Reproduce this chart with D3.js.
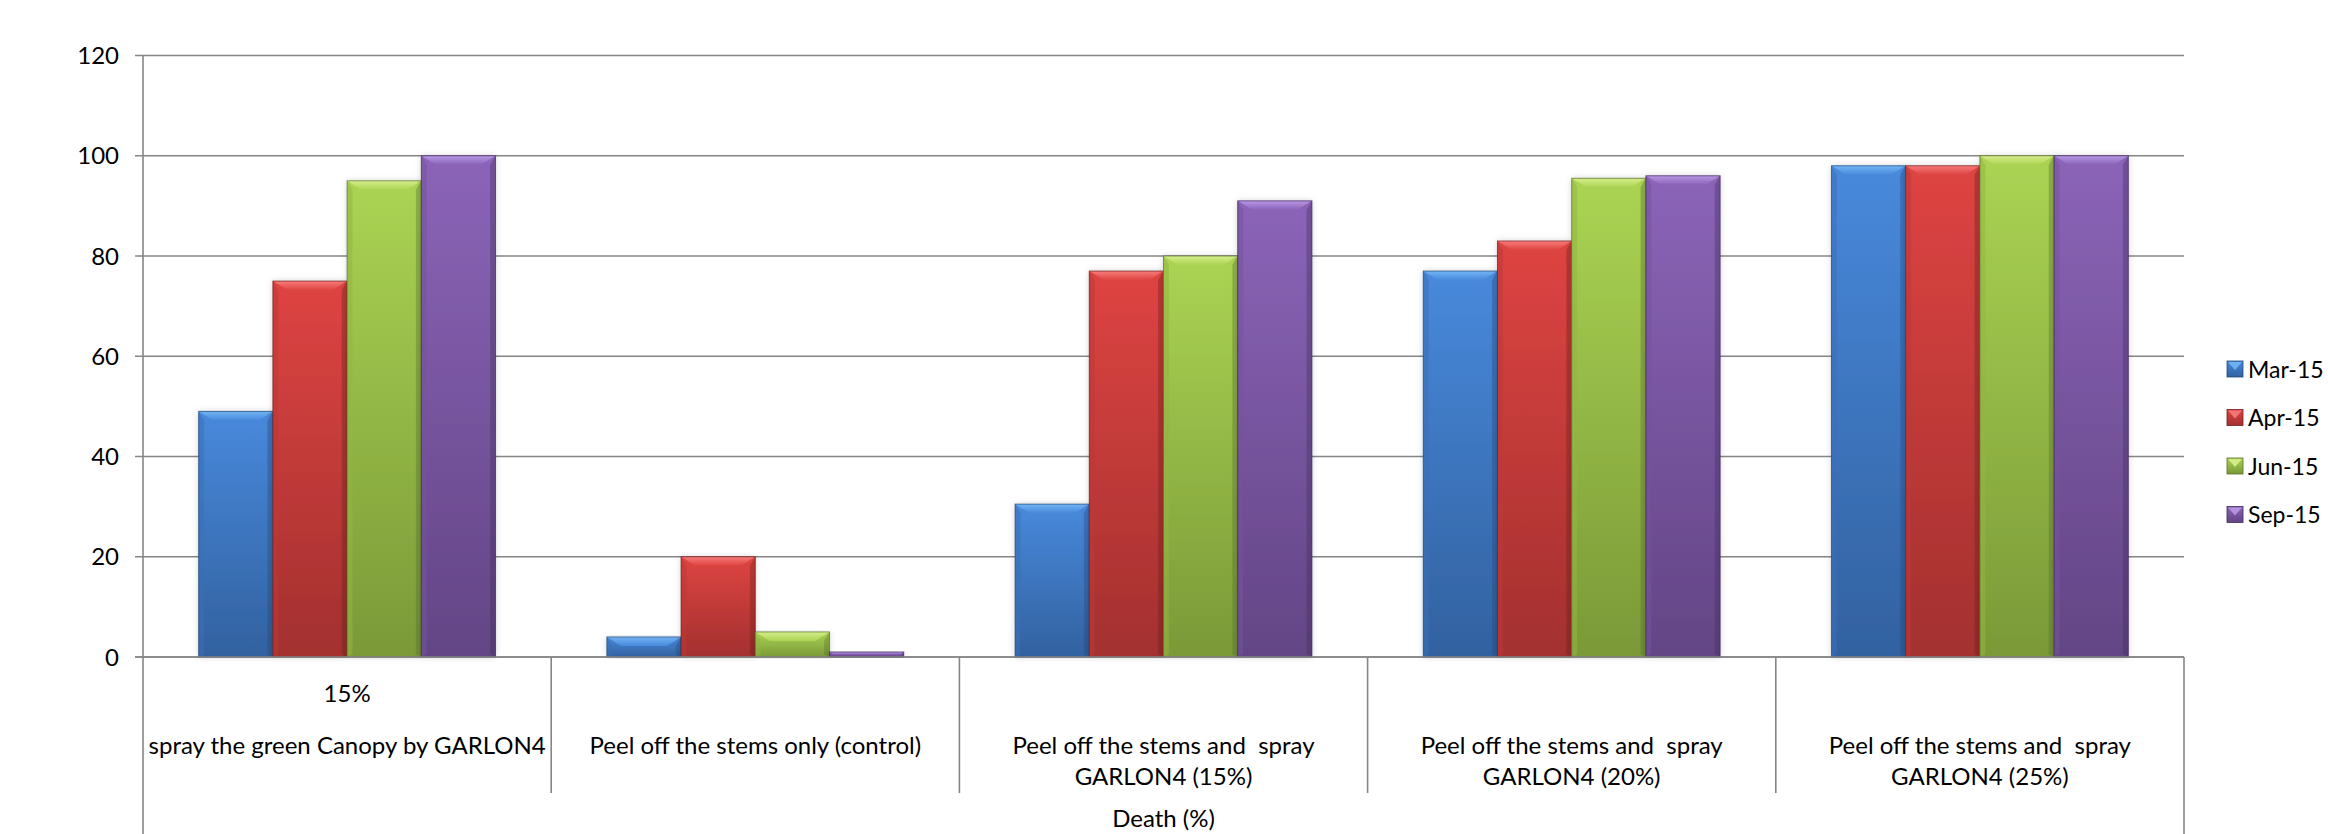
<!DOCTYPE html>
<html>
<head>
<meta charset="utf-8">
<script src="https://cdn.jsdelivr.net/npm/d3@7"></script>
<style>
  html, body { margin: 0; padding: 0; background: #ffffff; }
  svg { display: block; }
  text { font-family: Lato, "Open Sans", sans-serif; fill: #000; white-space: pre; }
</style>
</head>
<body>
<svg id="chart" width="2328" height="834"></svg>
<script>
// ---- data ----
const categories = [
  ["spray the green Canopy by GARLON4"],
  ["Peel off the stems only (control)"],
  ["Peel off the stems and  spray", "GARLON4 (15%)"],
  ["Peel off the stems and  spray", "GARLON4 (20%)"],
  ["Peel off the stems and  spray", "GARLON4 (25%)"]
];
const categoryNotes = ["15%", "", "", "", ""];
const seriesNames = ["Mar-15", "Apr-15", "Jun-15", "Sep-15"];
const mar15 = [49, 4, 30.5, 77, 98];
const apr15 = [75, 20, 77, 83, 98];
const jun15 = [95, 5, 80, 95.5, 100];
const sep15 = [100, 1, 91, 96, 100];
const yTicks = [0, 20, 40, 60, 80, 100, 120];
const outerCategory = "Death (%)";

// ---- styles ----
const seriesValues = [mar15, apr15, jun15, sep15];
const palette = {
  "Mar-15": { top: "#4889dc", bottom: "#32619f", bevel: "#72b5f4", side: "#3a70b8", edge: "#244a7c" },
  "Apr-15": { top: "#de4442", bottom: "#a3302f", bevel: "#f67c7a", side: "#bd3836", edge: "#6f1f1e" },
  "Jun-15": { top: "#abd453", bottom: "#7a9938", bevel: "#d6ee8c", side: "#91b644", edge: "#55702a" },
  "Sep-15": { top: "#8b64b8", bottom: "#634585", bevel: "#b997e6", side: "#75549c", edge: "#3e2a58" }
};
const FS = 24;

const svg = d3.select("#chart");
const W = 2328, H = 834;
const plotLeft = 143, plotRight = 2184, plotTop = 55.5, plotBottom = 657;

const x = d3.scaleBand().domain(d3.range(categories.length)).range([plotLeft, plotRight]).paddingInner(0).paddingOuter(0);
const xs = d3.scaleBand().domain(seriesNames).range([0, x.bandwidth()]).paddingInner(0).paddingOuter(0.75);
const y = d3.scaleLinear().domain([0, 120]).range([plotBottom, plotTop]);

// gradients
const defs = svg.append("defs");
seriesNames.forEach((s, i) => {
  const g = defs.append("linearGradient").attr("id", "grad" + i)
    .attr("x1", 0).attr("y1", 0).attr("x2", 0).attr("y2", 1);
  g.append("stop").attr("offset", "0%").attr("stop-color", palette[s].top);
  g.append("stop").attr("offset", "100%").attr("stop-color", palette[s].bottom);
  const b = defs.append("linearGradient").attr("id", "bev" + i)
    .attr("x1", 0).attr("y1", 0).attr("x2", 0).attr("y2", 1);
  b.append("stop").attr("offset", "0%").attr("stop-color", palette[s].bevel);
  b.append("stop").attr("offset", "100%").attr("stop-color", palette[s].top);
});
const shadow = defs.append("filter").attr("id", "shadow").attr("x", "-20%").attr("y", "-5%").attr("width", "140%").attr("height", "110%");
shadow.append("feDropShadow").attr("dx", 0).attr("dy", 0).attr("stdDeviation", 3).attr("flood-color", "#000").attr("flood-opacity", 0.18);

// gridlines
const gridColor = "#868686";
svg.append("g").selectAll("line").data(yTicks).join("line")
  .attr("x1", plotLeft - 8).attr("x2", plotRight)
  .attr("y1", d => y(d)).attr("y2", d => y(d))
  .attr("stroke", gridColor).attr("stroke-width", 1.6);

// y axis labels
svg.append("g").selectAll("text").data(yTicks).join("text")
  .attr("x", 119).attr("y", d => y(d) + 8.5)
  .attr("text-anchor", "end")
  .style("font-size", FS + "px")
  .text(d => d);

// bars
const bev = 9;
const groups = svg.append("g").selectAll("g").data(seriesNames).join("g");
groups.each(function(s, si) {
  const g = d3.select(this);
  const vals = seriesValues[si];
  const col = palette[s];
  const items = vals.map((v, ci) => ({ v, ci }));
  const bars = g.selectAll("g.bar").data(items).join("g").attr("class", "bar");
  bars.each(function(d) {
    const bx = x(d.ci) + xs(s), bw = xs.bandwidth();
    const by = y(d.v), bh = y(0) - y(d.v);
    const b = Math.min(bev, bh / 2);
    const gb = d3.select(this);
    gb.append("rect").attr("x", bx).attr("y", by).attr("width", bw).attr("height", bh)
      .attr("fill", `url(#grad${si})`).attr("filter", "url(#shadow)");
    gb.append("polygon")
      .attr("points", [[bx, by], [bx + b * 0.6, by + b], [bx + b * 0.6, by + bh - b * 0.3], [bx, by + bh]].join(" "))
      .attr("fill", col.side).attr("opacity", 0.55);
    gb.append("polygon")
      .attr("points", [[bx + bw, by], [bx + bw - b * 0.6, by + b], [bx + bw - b * 0.6, by + bh - b * 0.3], [bx + bw, by + bh]].join(" "))
      .attr("fill", col.edge).attr("opacity", 0.35);
    gb.append("polygon")
      .attr("points", [[bx, by], [bx + bw, by], [bx + bw - b * 1.6, by + b], [bx + b * 1.6, by + b]].join(" "))
      .attr("fill", `url(#bev${si})`);
    gb.append("rect").attr("x", bx).attr("y", by).attr("width", bw).attr("height", bh)
      .attr("fill", "none").attr("stroke", col.edge).attr("stroke-width", 1).attr("stroke-opacity", 0.7);
  });
});

// zero line on top of bars
svg.append("line").attr("x1", plotLeft - 8).attr("x2", plotRight)
  .attr("y1", y(0)).attr("y2", y(0)).attr("stroke", gridColor).attr("stroke-width", 1.6);

// vertical axis line
svg.append("line").attr("x1", plotLeft).attr("x2", plotLeft)
  .attr("y1", y(120)).attr("y2", H).attr("stroke", gridColor).attr("stroke-width", 1.6);
svg.append("line").attr("x1", plotRight).attr("x2", plotRight)
  .attr("y1", y(0)).attr("y2", H).attr("stroke", gridColor).attr("stroke-width", 1.6);
svg.append("g").selectAll("line").data(d3.range(1, categories.length)).join("line")
  .attr("x1", d => x(d)).attr("x2", d => x(d))
  .attr("y1", y(0)).attr("y2", 793)
  .attr("stroke", gridColor).attr("stroke-width", 1.6);

// category labels
const catG = svg.append("g").selectAll("g").data(categories).join("g");
catG.each(function(lines, i) {
  const cx = x(i) + x.bandwidth() / 2;
  const g = d3.select(this);
  lines.forEach((t, li) => {
    g.append("text").attr("x", cx).attr("y", 753.5 + li * 31)
      .attr("text-anchor", "middle").style("font-size", FS + "px").text(t);
  });
  if (categoryNotes[i]) {
    g.append("text").attr("x", cx).attr("y", 701.5)
      .attr("text-anchor", "middle").style("font-size", FS + "px").text(categoryNotes[i]);
  }
});

// outer category label
svg.append("text").attr("x", (plotLeft + plotRight) / 2).attr("y", 827)
  .attr("text-anchor", "middle").style("font-size", FS + "px").text(outerCategory);

// legend
const lg = svg.append("g").selectAll("g").data(seriesNames).join("g")
  .attr("transform", (d, i) => `translate(2227, ${369 + i * 48.5})`);
lg.append("rect").attr("x", 0).attr("y", -8).attr("width", 16).attr("height", 16)
  .attr("fill", (d, i) => `url(#grad${i})`).attr("stroke", d => palette[d].edge).attr("stroke-width", 0.8);
lg.append("polygon").attr("points", "1,-7 15,-7 8,1").attr("fill", d => palette[d].bevel).attr("opacity", 0.9);
lg.append("text").attr("x", 21).attr("y", 8.5).style("font-size", "23px").text(d => d);
</script>
</body>
</html>
